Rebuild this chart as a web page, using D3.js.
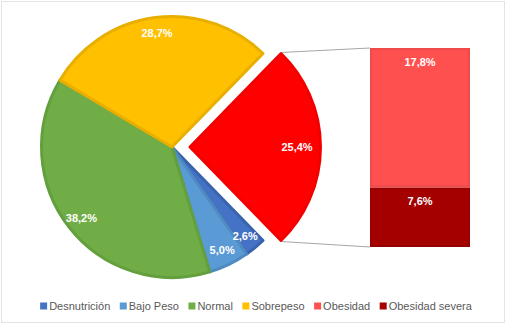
<!DOCTYPE html>
<html>
<head>
<meta charset="utf-8">
<script src="https://cdn.jsdelivr.net/npm/d3@7"></script>
<style>
  body { margin: 0; background: #fff; }
  svg { display: block; font-family: "Liberation Sans", Arial, sans-serif; }
</style>
</head>
<body>
<svg width="506" height="325"></svg>
<script>
// pie slices (last one is split into the bar)
var pieLabels = ["Desnutrición", "Bajo Peso", "Normal", "Sobrepeso", "Obesidad total"],
    pieValues = [2.6, 5.0, 38.2, 28.7, 25.4],
    pieColors = ["#4472C4", "#5B9BD5", "#70AD47", "#FFC000", "#FF0000"],
    pieStrokes = ["#3A63AD", "#4F8AC0", "#63A03D", "#E8AF00", "#F20000"];

// bar of pie (bottom to top)
var barLabels = ["Obesidad severa", "Obesidad"],
    barValues = [7.6, 17.8],
    barColors = ["#A50000", "#FF5050"],
    barStrokes = ["#980000", "#EE4A4A"];

var legendLabels = ["Desnutrición", "Bajo Peso", "Normal", "Sobrepeso", "Obesidad", "Obesidad severa"],
    legendColors = ["#4472C4", "#5B9BD5", "#70AD47", "#FFC000", "#FF5050", "#A50000"];

var svg = d3.select("svg"),
    width = +svg.attr("width"),
    height = +svg.attr("height");

var fmt = function(v) { return d3.format(".1f")(v).replace(".", ",") + "%"; };

svg.append("rect")
    .attr("x", 1.5).attr("y", 1.5)
    .attr("width", width - 3).attr("height", height - 4)
    .attr("fill", "#fff").attr("stroke", "#E3E3E3");

var cx = 172, cy = 147, radius = 132, explode = 18;

var total = d3.sum(pieValues),
    otherFrac = pieValues[pieValues.length - 1] / total,
    start = Math.PI / 2 + otherFrac * Math.PI;

var pie = d3.pie().sort(null).startAngle(start).endAngle(start + 2 * Math.PI);
var arcs = pie(pieValues);
var arc = d3.arc().innerRadius(0).outerRadius(radius - 1.5);

var g = svg.append("g").attr("transform", "translate(" + cx + "," + cy + ")");

g.selectAll("path")
    .data(arcs)
  .enter().append("path")
    .attr("transform", function(d, i) {
      if (i !== arcs.length - 1) return null;
      var a = (d.startAngle + d.endAngle) / 2;
      return "translate(" + (explode * Math.sin(a)) + "," + (-explode * Math.cos(a)) + ")";
    })
    .attr("d", arc)
    .attr("fill", function(d, i) { return pieColors[i]; })
    .attr("stroke", function(d, i) { return pieStrokes[i]; })
    .attr("stroke-width", 3)
    .attr("stroke-linejoin", "round");

// bar
var x0 = 370, x1 = 470;
var y = d3.scaleLinear().domain([0, d3.sum(barValues)]).range([247, 48]);
var stack = d3.cumsum(barValues);

svg.selectAll(".bar")
    .data(barValues)
  .enter().append("rect")
    .attr("class", "bar")
    .attr("x", x0 + 1)
    .attr("width", x1 - x0 - 2)
    .attr("y", function(d, i) { return y(stack[i]) + 1; })
    .attr("height", function(d, i) { return y(stack[i] - d) - y(stack[i]) - 2; })
    .attr("fill", function(d, i) { return barColors[i]; })
    .attr("stroke", function(d, i) { return barStrokes[i]; })
    .attr("stroke-width", 2);

// connector lines
var red = arcs[arcs.length - 1],
    mid = (red.startAngle + red.endAngle) / 2,
    ex = cx + explode * Math.sin(mid),
    ey = cy - explode * Math.cos(mid);
[[red.startAngle, y(d3.sum(barValues))], [red.endAngle, y(0)]].forEach(function(p) {
  svg.append("line")
      .attr("x1", ex + radius * Math.sin(p[0]))
      .attr("y1", ey - radius * Math.cos(p[0]))
      .attr("x2", x0)
      .attr("y2", p[1])
      .attr("stroke", "#A6A6A6")
      .attr("stroke-width", 1);
});

// pie labels
g.selectAll(".lbl")
    .data(arcs)
  .enter().append("text")
    .attr("class", "lbl")
    .attr("transform", function(d, i) {
      var a = (d.startAngle + d.endAngle) / 2,
          last = i === arcs.length - 1,
          r = last ? 107 : 115,
          off = last ? explode : 0;
      return "translate(" + ((r + off) * Math.sin(a)) + "," + (-(r + off) * Math.cos(a)) + ")";
    })
    .attr("text-anchor", "middle")
    .attr("dy", "0.35em")
    .attr("fill", "#fff")
    .attr("font-weight", "bold")
    .attr("font-size", "11px")
    .text(function(d) { return fmt(d.data); });

// bar labels
svg.selectAll(".blbl")
    .data(barValues)
  .enter().append("text")
    .attr("class", "blbl")
    .attr("x", (x0 + x1) / 2)
    .attr("y", function(d, i) { return y(stack[i]) + 14; })
    .attr("dy", "0.35em")
    .attr("text-anchor", "middle")
    .attr("fill", "#fff")
    .attr("font-weight", "bold")
    .attr("font-size", "11px")
    .text(function(d) { return fmt(d); });

// legend
var legend = svg.append("g").attr("font-size", "11px").attr("fill", "#595959");
var lx = 0;
legendLabels.forEach(function(name, i) {
  var item = legend.append("g").attr("transform", "translate(" + lx + ",0)");
  item.append("rect").attr("x", 0).attr("y", -3.5).attr("width", 7).attr("height", 7)
      .attr("fill", legendColors[i]);
  var t = item.append("text").attr("x", 9).attr("dy", "0.35em").text(name);
  lx += 9 + t.node().getComputedTextLength() + 9.5;
});
lx -= 9.5;
legend.attr("transform", "translate(" + ((width - lx) / 2 + 3) + ",306)");
</script>
</body>
</html>
